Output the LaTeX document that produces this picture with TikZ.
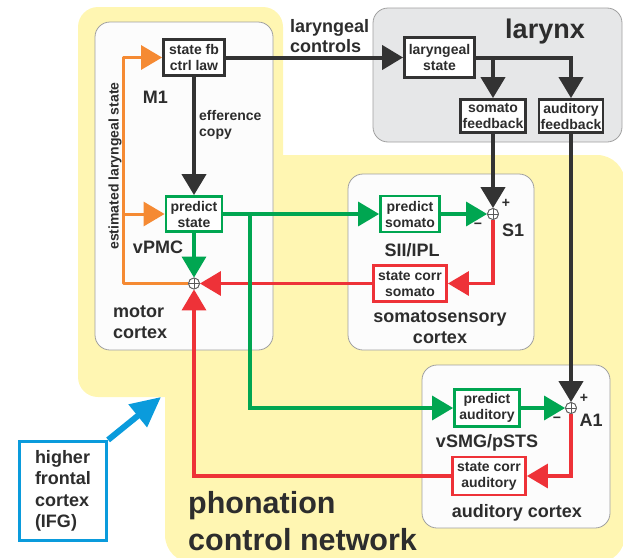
\documentclass[tikz,border=0pt]{standalone}
\usepackage{fontspec}
\setmainfont{Liberation Sans}
\usetikzlibrary{arrows.meta}
\definecolor{ybg}{RGB}{255,246,178}
\definecolor{dk}{RGB}{51,51,51}
\definecolor{txt}{RGB}{45,45,45}
\definecolor{grn}{RGB}{0,166,81}
\definecolor{rd}{RGB}{238,50,56}
\definecolor{org}{RGB}{245,138,51}
\definecolor{blu}{RGB}{10,155,220}
\definecolor{lgray}{RGB}{230,231,232}
\definecolor{edge}{RGB}{160,160,160}
\begin{document}
\begin{tikzpicture}[x=1pt,y=-1pt,
  blk/.style={draw=dk, line width=2.8pt, fill=white, text=txt, align=center,
    font=\fontsize{14}{16}\selectfont\bfseries, inner sep=0pt},
  gblk/.style={blk, draw=grn},
  rblk/.style={blk, draw=rd},
  lbl/.style={text=txt, align=center, inner sep=0pt, font=\fontsize{18}{20.5}\selectfont\bfseries},
  smalllbl/.style={text=txt, align=left, inner sep=0pt, font=\fontsize{14}{16}\selectfont\bfseries},
  region/.style={draw=edge, line width=0.8pt, fill=white!99!black, rounded corners=15pt},
  sumnode/.style={circle, draw=gray!70!black, fill=white, line width=0.8pt, minimum size=11pt, inner sep=0pt,
    path picture={\draw[gray!70!black, line width=0.6pt]
      (path picture bounding box.north) -- (path picture bounding box.south)
      (path picture bounding box.west) -- (path picture bounding box.east);}},
  tip/.style={-{Triangle[width=24pt,length=21pt]}},
  dkline/.style={draw=dk, line width=4pt},
  gline/.style={draw=grn, line width=3.3pt},
  rline/.style={draw=rd, line width=3.3pt},
  oline/.style={draw=org, line width=3pt},
]
\useasboundingbox (0,0) rectangle (623,557);

% phonation control network background
\fill[ybg, rounded corners=20pt] (78,7) rectangle (283,397);
\fill[ybg, rounded corners=28pt] (165,155) rectangle (625,563);

% cortical regions and larynx
\draw[region] (95,22) rectangle (273,350);
\draw[region] (348,174) rectangle (534,350);
\draw[region] (422,365) rectangle (610,528);
\draw[region, fill=lgray] (373,8) rectangle (622,142);

% blocks
\node[blk, minimum width=61pt, minimum height=36pt] (law) at (194,57.5) {state fb\\ctrl law};
\node[blk, minimum width=70pt, minimum height=40pt] (lstate) at (439.5,57.5) {laryngeal\\state};
\node[blk, minimum width=65pt, minimum height=33pt] (sfb) at (493,116) {somato\\feedback};
\node[blk, minimum width=64pt, minimum height=33pt] (afb) at (571,116) {auditory\\feedback};
\node[gblk, minimum width=56pt, minimum height=35pt] (pstate) at (194,214) {predict\\state};
\node[gblk, minimum width=59pt, minimum height=36pt] (psom) at (410,214) {predict\\somato};
\node[rblk, minimum width=73pt, minimum height=36pt] (csom) at (410,283.5) {state corr\\somato};
\node[gblk, minimum width=65pt, minimum height=37pt] (paud) at (487,408) {predict\\auditory};
\node[rblk, minimum width=73pt, minimum height=38pt] (caud) at (489,476) {state corr\\auditory};

% summing junctions
\node[sumnode] (sumM) at (194,283.5) {};
\node[sumnode] (sumS) at (493,214) {};
\node[sumnode] (sumA) at (571,408) {};

% branch points
\coordinate (obot) at (123,283.5);
\coordinate (obranch) at (123,214);
\coordinate (gsplit) at (250,214);

% motor command path and sensory feedback
\draw[dkline, tip] (law.east) -- (lstate.west);
\draw[dkline, tip] (lstate.east) -| (sfb.north);
\draw[dkline, tip] (lstate.east) -| (afb.north);
\draw[dkline, tip] (law.south) -- (pstate.north);
\draw[dkline, tip] (sfb.south) -- (sumS.north);
\draw[dkline, tip] (afb.south) -- (sumA.north);

% state corrections
\draw[rline, tip] (sumS.south) |- (csom.east);
\draw[rline, tip] (csom.west) -- (sumM.east);
\draw[rline, tip] (sumA.south) |- (caud.east);
\draw[rline, tip] (caud.west) -| (sumM.south);

% predictions
\draw[gline, tip] (pstate.east) -- (psom.west);
\draw[gline, tip] (gsplit) |- (paud.west);
\draw[gline, tip] (psom.east) -- (sumS.west);
\draw[gline, tip] (paud.east) -- (sumA.west);
\draw[gline, tip] (pstate.south) -- (sumM.north);

% estimated state loop
\draw[oline, tip, line join=round] (sumM.west) -- (obot) |- (law.west);
\draw[oline, tip] (obranch) -- (pstate.west);

% redraw junctions on top
\node[sumnode] at (sumM) {};
\node[sumnode] at (sumS) {};
\node[sumnode] at (sumA) {};

% labels
\node[lbl] (m1) at (155.5,97) {M1};
\node[smalllbl, anchor=west] (eff) at (199,125) {efference\\copy};
\node[lbl, align=left, anchor=west] (lctrl) at (290,36) {laryngeal\\controls};
\node[lbl, font=\fontsize{27}{30}\selectfont\bfseries] (larynx) at (545,32) {larynx};
\node[lbl] (vpmc) at (158,247) {vPMC};
\node[lbl, align=left, anchor=west] (motor) at (113,322) {motor\\cortex};
\node[smalllbl, rotate=90] (est) at (115,166) {estimated laryngeal state};
\node[lbl] (sii) at (412,250) {SII/IPL};
\node[lbl] (somcx) at (440,327) {somatosensory\\cortex};
\node[lbl] (vsmg) at (487,443) {vSMG/pSTS};
\node[lbl] (audcx) at (517,513) {auditory cortex};
\node[lbl, align=left, anchor=west, font=\fontsize{30.5}{37}\selectfont\bfseries] (pcn) at (188,521) {phonation\\control network};
\node[lbl] (s1) at (513,230) {S1};
\node[lbl] (a1) at (591,420) {A1};
\node[smalllbl] (splus) at (506,203) {+};
\node[smalllbl] (sminus) at (478,226) {−};
\node[smalllbl] (aplus) at (584,398) {+};
\node[smalllbl] (aminus) at (557,420) {−};

% higher frontal cortex
\node[draw=blu, line width=3.2pt, fill=white, minimum width=87pt, minimum height=99pt,
  text width=56pt, align=left, text=txt, inner sep=0pt,
  font=\fontsize{18}{21.5}\selectfont\bfseries] (ifg) at (63,491) {higher\\frontal\\cortex\\(IFG)};
\coordinate (ifgtip) at (161,397);
\draw[draw=blu, line width=6pt, -{Triangle[width=28pt,length=30pt]}] (ifg.north east) -- (ifgtip);
\end{tikzpicture}
\end{document}
